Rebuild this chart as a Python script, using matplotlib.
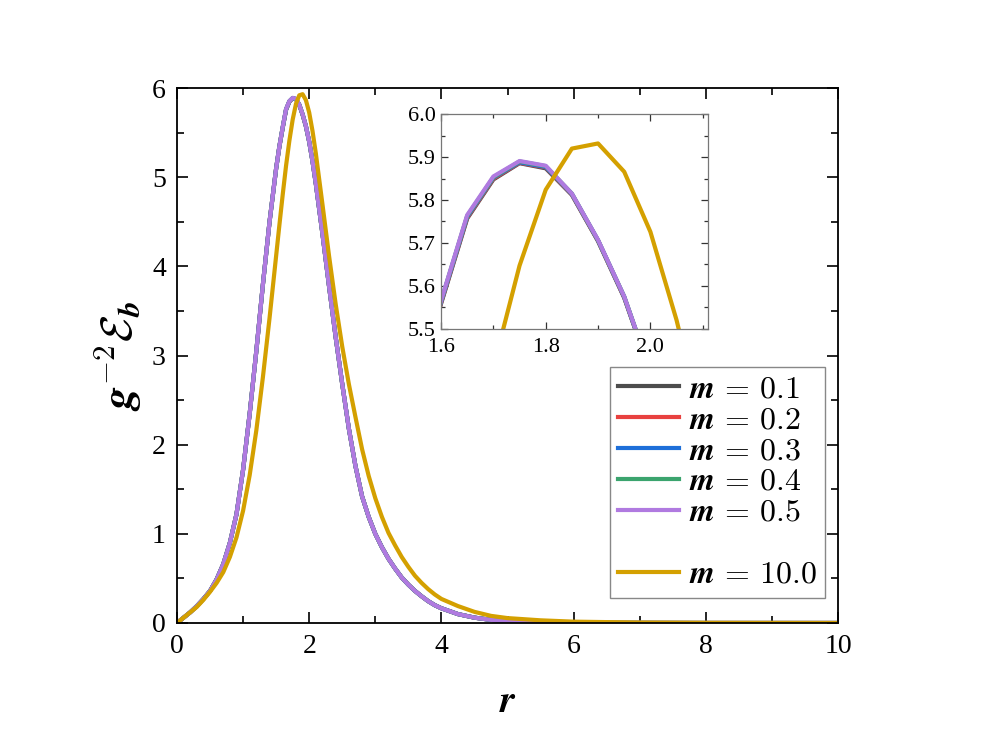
#!/usr/bin/env python
"""Binding energy profile g^-2 E_b vs r for several m, with peak inset."""

import matplotlib

matplotlib.use("Agg")
import matplotlib.pyplot as plt
from matplotlib.lines import Line2D
from matplotlib.ticker import MultipleLocator

plt.rcParams["font.family"] = ["Liberation Serif", "DejaVu Serif"]
plt.rcParams["mathtext.fontset"] = "cm"

# r grid shared by the small-m curves
r_small = [0.0, 0.1, 0.2, 0.3, 0.4, 0.5, 0.6, 0.7, 0.8, 0.9, 1.0, 1.1, 1.2,
           1.3, 1.4, 1.5, 1.55,
           1.6, 1.65, 1.7, 1.75, 1.8, 1.85, 1.9, 1.95, 2.0,
           2.05, 2.1, 2.2, 2.3, 2.4, 2.5, 2.6, 2.7, 2.8, 2.9, 3.0, 3.1, 3.2,
           3.3, 3.4, 3.5, 3.6, 3.7, 3.8, 3.9, 4.0, 4.25, 4.5, 4.75, 5.0,
           5.5, 6.0, 7.0, 8.0, 10.0]

# left flank and tail common to m = 0.1 ... 0.5 (indistinguishable there)
rise_small = [0.0, 0.06, 0.12, 0.19, 0.27, 0.36, 0.49, 0.66, 0.9, 1.22, 1.72,
              2.35, 3.05, 3.8, 4.5, 5.1, 5.35]
tail_small = [5.18, 4.93, 4.37, 3.78, 3.21, 2.68, 2.18, 1.76, 1.42, 1.19, 1.00,
              0.85, 0.72, 0.61, 0.51, 0.43, 0.36, 0.30, 0.245, 0.20, 0.165,
              0.10, 0.06, 0.035, 0.02, 0.008, 0.003, 0.001, 0.0, 0.0]

# peak region r = 1.6 ... 2.0 (from the inset)
peak_01 = [5.558, 5.757, 5.848, 5.886, 5.874, 5.812, 5.704, 5.572, 5.398]
peak_02 = [5.560, 5.759, 5.850, 5.887, 5.876, 5.813, 5.705, 5.573, 5.399]
peak_03 = [5.562, 5.761, 5.852, 5.888, 5.877, 5.814, 5.706, 5.574, 5.399]
peak_04 = [5.564, 5.763, 5.853, 5.890, 5.879, 5.815, 5.706, 5.575, 5.400]
peak_05 = [5.565, 5.765, 5.855, 5.891, 5.880, 5.815, 5.707, 5.575, 5.400]

# m = 10.0 curve
r_big = [0.0, 0.1, 0.2, 0.3, 0.4, 0.5, 0.6, 0.7, 0.8, 0.9, 1.0, 1.1, 1.2,
         1.3, 1.4, 1.5, 1.55, 1.6, 1.65, 1.7, 1.75, 1.8, 1.85, 1.9, 1.95,
         2.0, 2.05, 2.1, 2.2, 2.3, 2.4, 2.5, 2.6, 2.7, 2.8, 2.9, 3.0, 3.1,
         3.2, 3.3, 3.4, 3.5, 3.6, 3.7, 3.8, 3.9, 4.0, 4.25, 4.5, 4.75, 5.0,
         5.5, 6.0, 7.0, 8.0, 10.0]
e_big = [0.0, 0.06, 0.12, 0.18, 0.26, 0.35, 0.45, 0.57, 0.74, 0.96, 1.26,
         1.66, 2.16, 2.76, 3.42, 4.12, 4.47, 4.81, 5.13, 5.41, 5.647, 5.824,
         5.920, 5.932, 5.866, 5.726, 5.520, 5.27, 4.70, 4.12, 3.58, 3.10,
         2.68, 2.31, 1.95, 1.65, 1.40, 1.19, 1.01, 0.87, 0.74, 0.63, 0.53,
         0.45, 0.38, 0.32, 0.27, 0.19, 0.125, 0.08, 0.055, 0.03, 0.015,
         0.005, 0.002, 0.0]

m_labels = ["0.1", "0.2", "0.3", "0.4", "0.5"]
peaks = [peak_01, peak_02, peak_03, peak_04, peak_05]
colors = ["#4d4d4d", "#e8413f", "#1e6fd9", "#3ba46e", "#b07ae0"]
color_big = "#d4a000"

fig = plt.figure(figsize=(9.96, 7.47), dpi=100)
ax = fig.add_axes([0.1777, 0.166, 0.6637, 0.716])

lw = 3.0
handles = []
for lab, pk, c in zip(m_labels, peaks, colors):
    e = rise_small + pk + tail_small
    (h,) = ax.plot(r_small, e, color=c, lw=lw,
                   label=rf"$\boldsymbol{{m}}\,=\,\boldsymbol{{{lab}}}$")
    handles.append(h)
(hb,) = ax.plot(r_big, e_big, color=color_big, lw=lw,
                label=r"$\boldsymbol{m}\,=\,\boldsymbol{10.0}$")
blank = Line2D([], [], color="none", label=" ")
handles += [blank, hb]

ax.set_xlim(0, 10)
ax.set_ylim(0, 6)
ax.xaxis.set_major_locator(MultipleLocator(2))
ax.xaxis.set_minor_locator(MultipleLocator(1))
ax.yaxis.set_major_locator(MultipleLocator(1))
ax.yaxis.set_minor_locator(MultipleLocator(0.5))
ax.tick_params(which="both", direction="in", top=True, right=True, width=1.2)
ax.tick_params(which="major", length=8, labelsize=20, pad=8)
ax.tick_params(which="minor", length=5)
for s in ax.spines.values():
    s.set_linewidth(1.3)

ax.set_xlabel(r"$\boldsymbol{r}$", fontsize=28, labelpad=18)
ax.set_ylabel(r"$\boldsymbol{g}^{-2}\boldsymbol{\mathcal{E}}_{\boldsymbol{b}}$",
              fontsize=32, labelpad=6)

leg = ax.legend(handles=handles, loc="lower right", bbox_to_anchor=(0.98, 0.047),
                fontsize=23, frameon=True, fancybox=False, framealpha=1,
                edgecolor="#888888", handlelength=1.9, handletextpad=0.3,
                labelspacing=0.05, borderpad=0.25, borderaxespad=0)
leg.get_frame().set_linewidth(1.0)

# inset around the peak
axin = fig.add_axes([0.4428, 0.560, 0.268, 0.287])
for lab, pk, c in zip(m_labels, peaks, colors):
    e = rise_small + pk + tail_small
    axin.plot(r_small, e, color=c, lw=lw)
axin.plot(r_big, e_big, color=color_big, lw=lw)
axin.set_xlim(1.6, 2.11)
axin.set_ylim(5.5, 6.0)
axin.xaxis.set_major_locator(MultipleLocator(0.2))
axin.xaxis.set_minor_locator(MultipleLocator(0.1))
axin.yaxis.set_major_locator(MultipleLocator(0.1))
axin.yaxis.set_minor_locator(MultipleLocator(0.05))
axin.tick_params(which="both", direction="in", top=True, right=True,
                 width=0.9, color="#333333")
axin.tick_params(which="major", length=5, labelsize=16)
axin.tick_params(axis="x", which="major", pad=7)
axin.tick_params(axis="y", which="major", pad=4)
axin.tick_params(which="minor", length=3)
for s in axin.spines.values():
    s.set_linewidth(0.9)
    s.set_color("#777777")

fig.savefig("out.png", dpi=100)
